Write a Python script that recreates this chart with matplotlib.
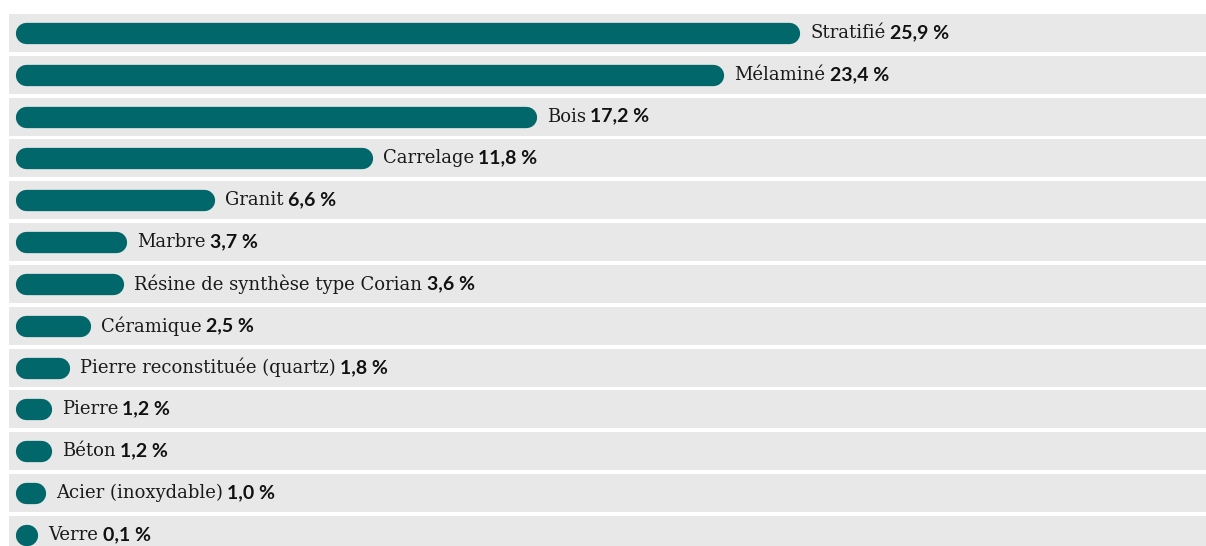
import matplotlib
matplotlib.use("Agg")
import matplotlib.pyplot as plt
from matplotlib.offsetbox import TextArea, HPacker, AnnotationBbox

plt.rcParams["path.simplify"] = False

categories = ["Stratifié", "Mélaminé", "Bois", "Carrelage", "Granit", "Marbre",
              "Résine de synthèse type Corian", "Céramique",
              "Pierre reconstituée (quartz)", "Pierre", "Béton",
              "Acier (inoxydable)", "Verre"]
values = [25.9, 23.4, 17.2, 11.8, 6.6, 3.7, 3.6, 2.5, 1.8, 1.2, 1.2, 1.0, 0.1]
value_labels = ["25,9 %", "23,4 %", "17,2 %", "11,8 %", "6,6 %", "3,7 %", "3,6 %",
                "2,5 %", "1,8 %", "1,2 %", "1,2 %", "1,0 %", "0,1 %"]

BAR = "#02676b"
BAND = "#e8e8e8"

W, H, DPI = 1206, 546, 100
fig = plt.figure(figsize=(W / DPI, H / DPI), dpi=DPI)
ax = fig.add_axes([0, 0, 1, 1])
ax.set_axis_off()

px_per_unit = 30.3      # horizontal pixels per percent
x0_px = 15              # pixel where 0 % lies
row_px = 41.83          # vertical pixels per row
first_px = 33           # centre of first row
ax.set_xlim(-x0_px / px_per_unit, (W - x0_px) / px_per_unit)
ax.set_ylim((H - first_px) / row_px, -first_px / row_px)

bar_h_px = 21.3
r = bar_h_px / 2 / px_per_unit   # cap radius in data units
lw_pt = bar_h_px * 72 / DPI

band_left = -6 / px_per_unit
band_right = (W - x0_px) / px_per_unit
n = len(categories)
ax.barh(range(n), band_right - band_left, left=band_left, height=38 / row_px,
        color=BAND, zorder=1)

for i, (cat, v, lab) in enumerate(zip(categories, values, value_labels)):
    w = max(v, 2 * r + 0.06)
    ax.plot([r, w - r], [i, i], color=BAR, lw=lw_pt, solid_capstyle="round", zorder=2)
    name = TextArea(cat, textprops=dict(fontsize=13, family="DejaVu Serif",
                                        color="#1a1a1a"))
    val = TextArea(lab, textprops=dict(fontsize=14, family="Lato",
                                       fontweight="bold", color="#111111"))
    box = HPacker(children=[name, val], align="baseline", pad=0, sep=3)
    ab = AnnotationBbox(box, (w, i), xybox=(7.5, 0), xycoords="data",
                        boxcoords="offset points", box_alignment=(0, 0.5),
                        frameon=False, pad=0, zorder=3)
    ax.add_artist(ab)

fig.savefig("out.png", dpi=DPI)
